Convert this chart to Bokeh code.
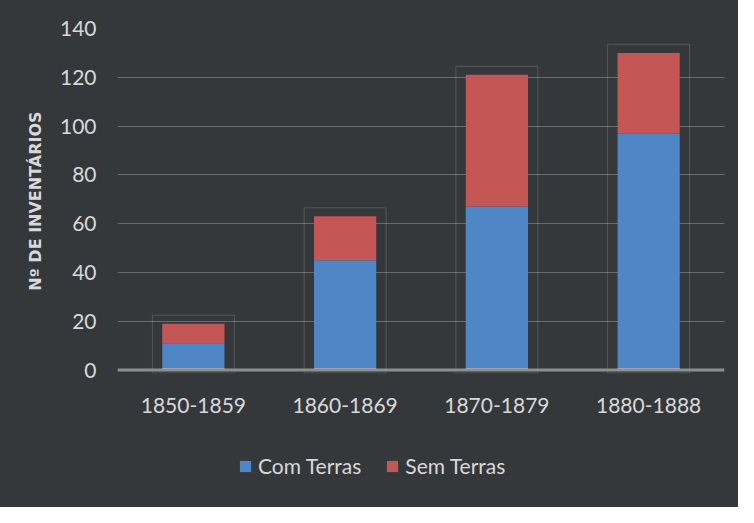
from bokeh.plotting import figure
from bokeh.layouts import column
from bokeh.models import Range1d, FactorRange, Legend, LegendItem, Span, ColumnDataSource
from bokeh.embed import file_html
from bokeh.resources import INLINE

periods = ["1850-1859", "1860-1869", "1870-1879", "1880-1888"]
com_terras = [11, 45, 67, 97]
sem_terras = [8, 18, 54, 33]
y_ticks = [0, 20, 40, 60, 80, 100, 120, 140]
series_names = ["Com Terras", "Sem Terras"]

totals = [c + s for c, s in zip(com_terras, sem_terras)]
src = ColumnDataSource(dict(period=periods, com=com_terras, sem=sem_terras,
                            total=totals,
                            frame_top=[t + 3.5 for t in totals]))

BG = "#35383b"
TXT = "#d9d9d9"
BLUE = "#4f86c6"
RED = "#c45656"

p = figure(x_range=FactorRange(*periods), y_range=Range1d(-1.4, 140),
           width=738, height=434, output_backend="svg", toolbar_location=None,
           min_border_left=117, min_border_right=14, min_border_top=28,
           min_border_bottom=61, styles={"background-color": BG})
p.background_fill_color = BG
p.border_fill_color = BG
p.outline_line_color = None

# faint frames around bars
p.vbar(x="period", bottom=-1.2, top="frame_top", width=0.54, source=src,
       fill_color=None, line_color="#ffffff", line_alpha=0.16, line_width=1)

r = p.vbar_stack(["com", "sem"], x="period", width=0.41, source=src,
                 color=[BLUE, RED], line_color=None)

# light base strip
p.vbar(x="period", bottom=0, top=0.9, width=0.41, source=src,
       fill_color="#a7b9e2", line_color=None)

p.ygrid.ticker = y_ticks
p.ygrid.grid_line_color = "#6a6d70"
p.ygrid.grid_line_width = 1
p.xgrid.grid_line_color = None
p.add_layout(Span(location=0, dimension="width", line_color="#8e8e8e", line_width=3))

p.yaxis.ticker = y_ticks
p.yaxis.axis_label = "Nº DE INVENTÁRIOS"
p.yaxis.axis_label_text_font = "DejaVu Sans"
p.yaxis.axis_label_text_font_style = "bold"
p.yaxis.axis_label_text_font_size = "16px"
p.yaxis.axis_label_text_color = TXT
p.yaxis.axis_label_standoff = 12

for ax in (p.xaxis[0], p.yaxis[0]):
    ax.axis_line_color = None
    ax.major_tick_line_color = None
    ax.minor_tick_line_color = None
    ax.major_tick_in = 0
    ax.major_tick_out = 0
    ax.major_label_text_font = "Lato"
    ax.major_label_text_font_size = "21px"
    ax.major_label_text_color = TXT
p.yaxis.major_label_standoff = 21
p.xaxis.major_label_standoff = 24

# legend strip below the chart
lg = figure(width=738, height=73, output_backend="svg", toolbar_location=None,
            x_range=Range1d(0, 1), y_range=Range1d(0, 1),
            x_axis_location=None, y_axis_location=None,
            min_border_left=0, min_border_right=0, min_border_top=0,
            min_border_bottom=0, styles={"background-color": BG})
lg.grid.visible = False
lg.background_fill_color = None
lg.border_fill_color = BG
lg.outline_line_color = None
g = lg.vbar_stack(["com", "sem"], x=0.5, width=0.1, source=src,
                  color=[BLUE, RED], line_color=None)
for gr in g:
    gr.visible = False
legend = Legend(items=[LegendItem(label=series_names[0], renderers=[g[0]]),
                       LegendItem(label=series_names[1], renderers=[g[1]])],
                orientation="horizontal", location=(121, 29),
                background_fill_alpha=0, border_line_color=None,
                label_text_font="Lato", label_text_font_size="21px",
                label_text_color=TXT, glyph_width=14, glyph_height=14,
                label_standoff=6, spacing=24, padding=0, margin=0)
lg.add_layout(legend, "center")

layout = column(p, lg, spacing=0, styles={"background-color": BG})
open("out.html", "w").write(file_html(layout, INLINE))
